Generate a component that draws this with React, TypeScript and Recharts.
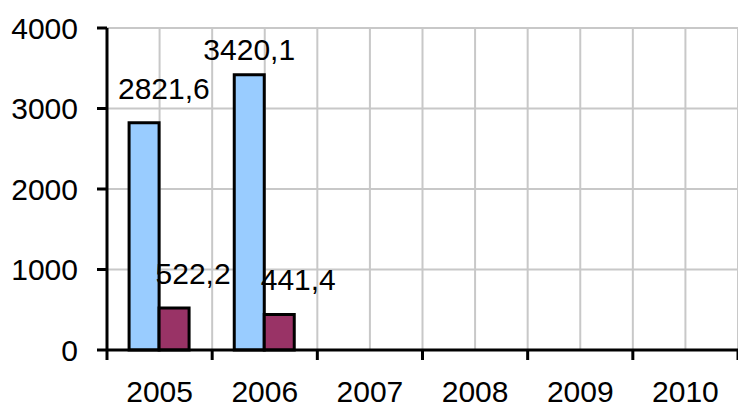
import { BarChart, Bar, XAxis, YAxis, CartesianGrid, LabelList } from 'recharts';

const YEARS = ['2005', '2006', '2007', '2008', '2009', '2010'];
const SERIES_A = [2821.6, 3420.1, null, null, null, null];
const SERIES_B = [522.2, 441.4, null, null, null, null];
const Y_TICKS = [0, 1000, 2000, 3000, 4000];

const W = 738;
const H = 408;
const LEFT = 107;
const TOP = 28;
const X_AXIS_H = 58;
const PLOT_W = W - LEFT;
const STEP = PLOT_W / YEARS.length;
const FONT = '"Liberation Sans", Arial, sans-serif';
const FS = 30;

const data = YEARS.map((year, i) => ({ year, a: SERIES_A[i], b: SERIES_B[i] }));

const fmt = (v: number) => v.toFixed(1).replace('.', ',');

// rough Arial width: digits 0.556em, comma 0.278em
const textW = (s: string) => s.split('').reduce((w, c) => w + (c === ',' ? 0.278 : 0.556) * FS, 0);

function makeLabel(dx: number) {
  return (props: any) => {
    const { x, y, width, value } = props;
    if (value == null) return null;
    const s = fmt(Number(value));
    const w = textW(s);
    let cx = Number(x) + Number(width) / 2 + dx;
    cx = Math.max(cx, LEFT + 11 + w / 2);
    const base = Math.max(Number(y) - 24, TOP + 32);
    return (
      <text x={cx} y={base} textAnchor="middle" fontSize={FS} fontFamily={FONT} fill="#000">
        {s}
      </text>
    );
  };
}

function YearTick(props: any) {
  const { x, y, payload, index } = props;
  const left = x - STEP / 2;
  return (
    <g>
      <line x1={left} x2={left} y1={y} y2={y + 10} stroke="#000" strokeWidth={3} />
      {index === YEARS.length - 1 && (
        <line x1={x + STEP / 2} x2={x + STEP / 2} y1={y} y2={y + 10} stroke="#000" strokeWidth={3} />
      )}
      <text x={x} y={402} textAnchor="middle" fontSize={FS} fontFamily={FONT} fill="#000">
        {payload.value}
      </text>
    </g>
  );
}

export default function App() {
  return (
    <div style={{ position: 'absolute', left: 0, top: 0, background: '#fff' }}>
      <BarChart
        width={W}
        height={H}
        data={data}
        margin={{ top: TOP, right: 0, bottom: 0, left: 0 }}
        barCategoryGap="21%"
        barGap={0}
      >
        <CartesianGrid
          stroke="#C8C8C8"
          strokeWidth={2}
          verticalCoordinatesGenerator={({ offset }: any) =>
            Array.from({ length: YEARS.length * 2 + 1 }, (_, i) => offset.left + (i * offset.width) / (YEARS.length * 2))
          }
        />
        <XAxis
          dataKey="year"
          height={X_AXIS_H}
          axisLine={{ stroke: '#000', strokeWidth: 3 }}
          tickLine={false}
          tickSize={0}
          tickMargin={0}
          interval={0}
          tick={<YearTick />}
        />
        <YAxis
          width={LEFT}
          domain={[0, 4000]}
          ticks={Y_TICKS}
          interval={0}
          axisLine={{ stroke: '#000', strokeWidth: 3 }}
          tickLine={{ stroke: '#000', strokeWidth: 3 }}
          tickSize={10}
          tickMargin={19}
          tick={{ fontSize: FS, fontFamily: FONT, fill: '#000' }}
        />
        <Bar dataKey="a" fill="#99CCFF" stroke="#000" strokeWidth={3} isAnimationActive={false}>
          <LabelList dataKey="a" content={makeLabel(0)} />
        </Bar>
        <Bar dataKey="b" fill="#993366" stroke="#000" strokeWidth={3} isAnimationActive={false}>
          <LabelList dataKey="b" content={makeLabel(19)} />
        </Bar>
      </BarChart>
    </div>
  );
}
